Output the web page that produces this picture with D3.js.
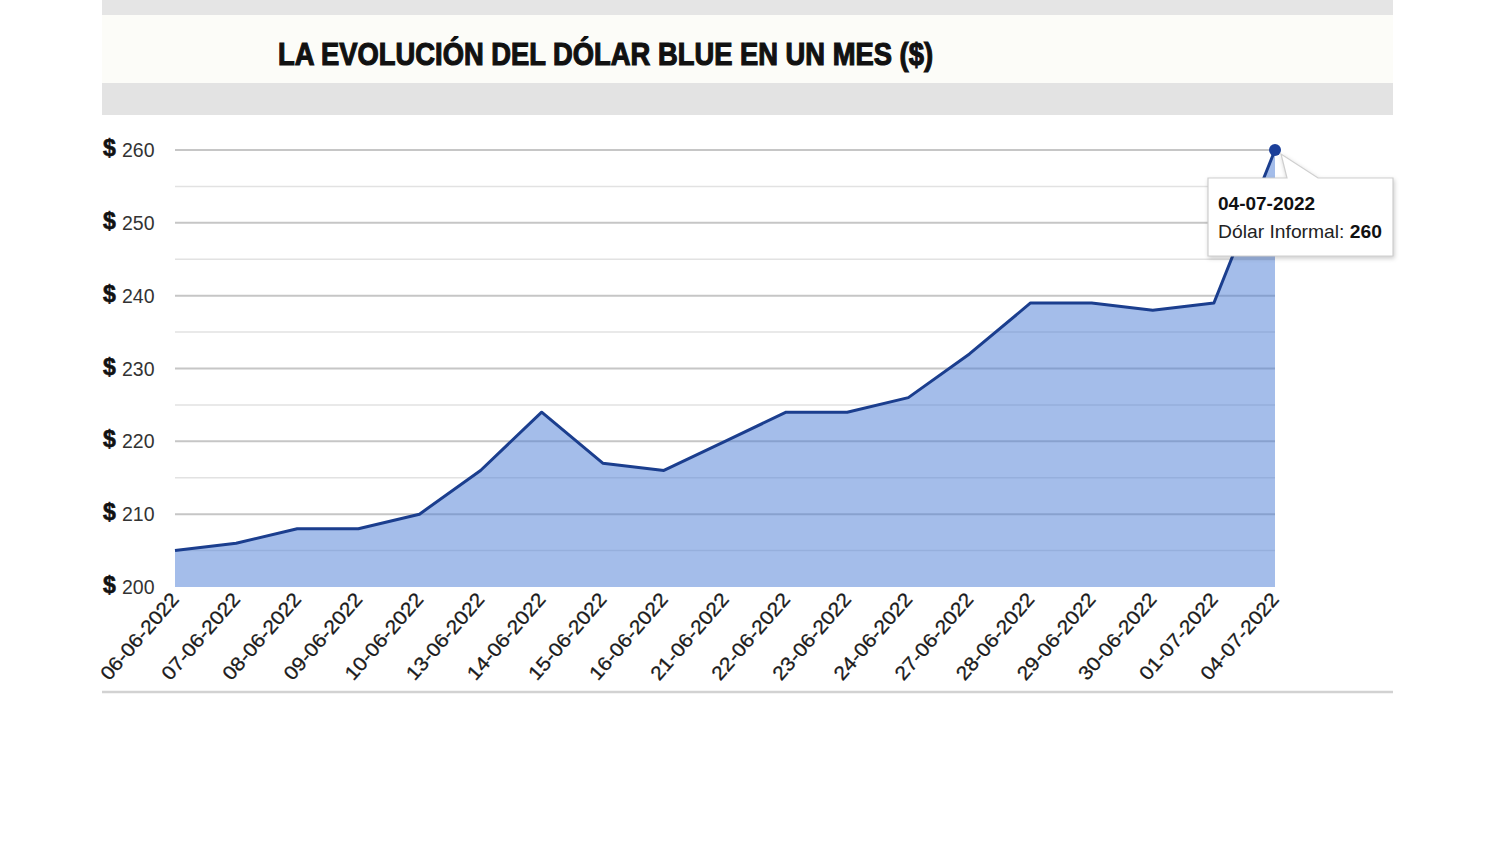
<!DOCTYPE html>
<html>
<head>
<meta charset="utf-8">
<script src="https://cdn.jsdelivr.net/npm/d3@7"></script>
<style>
  html, body { margin: 0; padding: 0; background: #ffffff; }
  svg { display: block; }
</style>
</head>
<body>
<svg id="chart" width="1500" height="850"></svg>
<script>
const title = "LA EVOLUCIÓN DEL DÓLAR BLUE EN UN MES ($)";
const dates = ["06-06-2022","07-06-2022","08-06-2022","09-06-2022","10-06-2022","13-06-2022","14-06-2022","15-06-2022","16-06-2022","21-06-2022","22-06-2022","23-06-2022","24-06-2022","27-06-2022","28-06-2022","29-06-2022","30-06-2022","01-07-2022","04-07-2022"];
const values = [205, 206, 208, 208, 210, 216, 224, 217, 216, 220, 224, 224, 226, 232, 239, 239, 238, 239, 260];
const yTicks = [200, 210, 220, 230, 240, 250, 260];
const yMinorTicks = [205, 215, 225, 235, 245, 255];
const seriesName = "Dólar Informal";
const highlightIndex = 18;

const svg = d3.select("#chart");
const W = 1500, H = 850;

// background bands
svg.append("rect").attr("x", 0).attr("y", 0).attr("width", W).attr("height", H).attr("fill", "#ffffff");
svg.append("rect").attr("x", 102).attr("y", 0).attr("width", 1291).attr("height", 15).attr("fill", "#e5e5e5");
svg.append("rect").attr("x", 102).attr("y", 15).attr("width", 1291).attr("height", 68).attr("fill", "#fcfcf8");
svg.append("rect").attr("x", 102).attr("y", 83).attr("width", 1291).attr("height", 32).attr("fill", "#e3e3e3");

// title
svg.append("text")
  .attr("x", 278).attr("y", 65)
  .attr("font-family", "'Liberation Sans', Arial, sans-serif")
  .attr("font-weight", "bold")
  .attr("font-size", 32)
  .attr("fill", "#111")
  .attr("stroke", "#111").attr("stroke-width", 1.2)
  .attr("textLength", 655)
  .attr("lengthAdjust", "spacingAndGlyphs")
  .text(title);

const x = d3.scalePoint().domain(dates).range([175, 1275]);
const y = d3.scaleLinear().domain([200, 260]).range([587, 150]);

// grid
const g = svg.append("g");
g.selectAll("line.minor").data(yMinorTicks).enter().append("line")
  .attr("x1", 175).attr("x2", 1275)
  .attr("y1", d => y(d)).attr("y2", d => y(d))
  .attr("stroke", "#e2e2e2").attr("stroke-width", 1.5);
g.selectAll("line.major").data(yTicks.filter(d => d !== 200)).enter().append("line")
  .attr("x1", 175).attr("x2", 1275)
  .attr("y1", d => y(d)).attr("y2", d => y(d))
  .attr("stroke", "#c6c6c6").attr("stroke-width", 2);

// area
const area = d3.area().x((d, i) => x(dates[i])).y0(y(200)).y1(d => y(d));
svg.append("path").datum(values).attr("d", area)
  .attr("fill", "#4a7bd6").attr("fill-opacity", 0.5);
const line = d3.line().x((d, i) => x(dates[i])).y(d => y(d));
svg.append("path").datum(values).attr("d", line)
  .attr("fill", "none").attr("stroke", "#1b3e8e").attr("stroke-width", 3)
  .attr("stroke-linejoin", "round");

// y axis labels
const clip = svg.append("clipPath").attr("id", "lclip");
clip.append("rect").attr("x", 102).attr("y", 100).attr("width", 200).attr("height", 520);
const yl = svg.append("g").attr("clip-path", "url(#lclip)");
yTicks.forEach(t => {
  yl.append("text").attr("x", 103).attr("y", y(t) + 6)
    .attr("font-family", "'Liberation Sans', Arial, sans-serif")
    .attr("font-weight", "bold").attr("font-size", 23).attr("fill", "#111")
    .attr("stroke", "#111").attr("stroke-width", 0.6)
    .text("$");
  yl.append("text").attr("x", 122).attr("y", y(t) + 7)
    .attr("font-family", "'Liberation Sans', Arial, sans-serif")
    .attr("font-size", 19.5).attr("fill", "#333")
    .text(t);
});

// x axis labels
const xl = svg.append("g");
dates.forEach(d => {
  xl.append("text")
    .attr("transform", `translate(${x(d) + 5},${600}) rotate(-49)`)
    .attr("text-anchor", "end")
    .attr("font-family", "'Liberation Sans', Arial, sans-serif")
    .attr("font-size", 19.5).attr("fill", "#1a1a1a")
    .attr("stroke", "#1a1a1a").attr("stroke-width", 0.3)
    .attr("textLength", 108).attr("lengthAdjust", "spacingAndGlyphs")
    .text(d);
});

// bottom line
svg.append("line").attr("x1", 102).attr("x2", 1393).attr("y1", 692).attr("y2", 692)
  .attr("stroke", "#d2d2d2").attr("stroke-width", 2.5);

// highlighted point + tooltip
const px = x(dates[highlightIndex]), py = y(values[highlightIndex]);
const tt = svg.append("g");
tt.append("path")
  .attr("d", `M1208,178 L1287,178 L${px + 6},${py + 4} L1318,178 L1393,178 L1393,256 L1208,256 Z`)
  .attr("fill", "#ffffff").attr("stroke", "#cfcfcf").attr("stroke-width", 1.2)
  .style("filter", "drop-shadow(1px 2px 2px rgba(0,0,0,0.2))");
svg.append("circle").attr("cx", px).attr("cy", py).attr("r", 6).attr("fill", "#1b3f9a");
tt.append("text").attr("x", 1218).attr("y", 210)
  .attr("font-family", "'Liberation Sans', Arial, sans-serif")
  .attr("font-weight", "bold").attr("font-size", 19).attr("fill", "#111")
  .text(dates[highlightIndex]);
const t2 = tt.append("text").attr("x", 1218).attr("y", 238)
  .attr("font-family", "'Liberation Sans', Arial, sans-serif")
  .attr("font-size", 19).attr("fill", "#222")
  .attr("textLength", 164).attr("lengthAdjust", "spacingAndGlyphs");
t2.append("tspan").text(seriesName + ": ");
t2.append("tspan").attr("font-weight", "bold").attr("fill", "#111").text(values[highlightIndex]);
</script>
</body>
</html>
